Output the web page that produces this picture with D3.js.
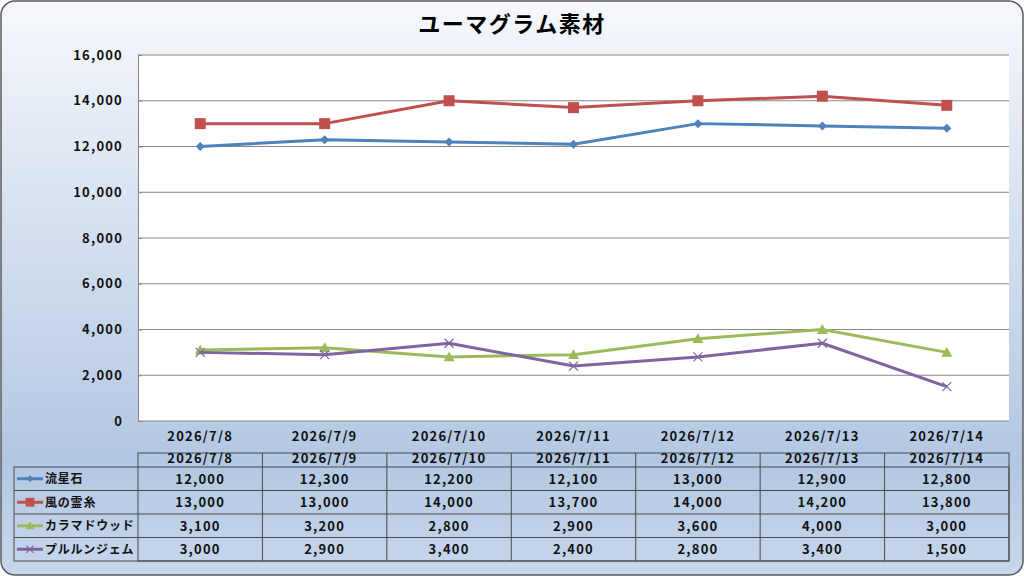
<!DOCTYPE html>
<html>
<head>
<meta charset="utf-8">
<script src="https://cdn.jsdelivr.net/npm/d3@7"></script>
<style>
  html, body { margin: 0; padding: 0; background: #fff; }
  svg { display: block; }
  text { letter-spacing: 1.2px; }
</style>
</head>
<body>
<svg id="chart"></svg>
<script>
// chart data
const dates = ["2026/7/8", "2026/7/9", "2026/7/10", "2026/7/11", "2026/7/12", "2026/7/13", "2026/7/14"];
const seriesNames = ["流星石", "風の霊糸", "カラマドウッド", "プルルンジェム"];
const ryuseiseki = [12000, 12300, 12200, 12100, 13000, 12900, 12800];
const kazeNoReishi = [13000, 13000, 14000, 13700, 14000, 14200, 13800];
const karamaWood = [3100, 3200, 2800, 2900, 3600, 4000, 3000];
const pururunGem = [3000, 2900, 3400, 2400, 2800, 3400, 1500];
const yTicks = [0, 2000, 4000, 6000, 8000, 10000, 12000, 14000, 16000];

const colors = ["#4f81bd", "#c0504d", "#9bbb59", "#8064a2"];
const markers = ["diamond", "square", "triangle", "cross"];
const series = [ryuseiseki, kazeNoReishi, karamaWood, pururunGem].map((values, i) => ({
  name: seriesNames[i], values, color: colors[i], marker: markers[i]
}));

const width = 1024, height = 576;
const plot = { left: 138, right: 1009, top: 55, bottom: 421 };
const font = "'Noto Sans CJK JP', 'Noto Sans', sans-serif";

const svg = d3.select("#chart").attr("width", width).attr("height", height);

// background panel
const defs = svg.append("defs");
const grad = defs.append("linearGradient").attr("id", "bg").attr("x1", 0).attr("y1", 0).attr("x2", 0).attr("y2", 1);
grad.append("stop").attr("offset", "0%").attr("stop-color", "#f6f8fc");
grad.append("stop").attr("offset", "80%").attr("stop-color", "#b2c7e2");
grad.append("stop").attr("offset", "100%").attr("stop-color", "#c7d7ec");

svg.append("rect")
  .attr("x", 1).attr("y", 1).attr("width", width - 2).attr("height", height - 2)
  .attr("rx", 14).attr("fill", "url(#bg)")
  .attr("stroke", "#5a5a5a").attr("stroke-width", 1.5);

// title
svg.append("text")
  .attr("x", width / 2).attr("y", 32)
  .attr("text-anchor", "middle")
  .style("font", `bold 22px ${font}`)
  .style("letter-spacing", "1.5px")
  .attr("fill", "#000")
  .text("ユーマグラム素材");

// scales
const x = d3.scaleBand().domain(dates).range([plot.left, plot.right]);
const y = d3.scaleLinear().domain([0, 16000]).range([plot.bottom, plot.top]);

svg.append("rect")
  .attr("x", plot.left).attr("y", plot.top)
  .attr("width", plot.right - plot.left).attr("height", plot.bottom - plot.top)
  .attr("fill", "#fff");

// gridlines
svg.append("g")
  .selectAll("line")
  .data(yTicks)
  .join("line")
  .attr("x1", plot.left).attr("x2", plot.right)
  .attr("y1", (d) => y(d)).attr("y2", (d) => y(d))
  .attr("stroke", "#868686").attr("stroke-width", 1);

// y axis
const yAxis = svg.append("g")
  .attr("transform", `translate(${plot.left},0)`)
  .call(d3.axisLeft(y).tickValues(yTicks).tickFormat(d3.format(",")).tickSize(-4).tickPadding(15));
yAxis.select(".domain").attr("stroke", "#868686");
yAxis.selectAll(".tick line").attr("stroke", "#868686");
yAxis.selectAll("text").style("font", `bold 13px ${font}`).attr("fill", "#111");

// x axis labels
svg.append("g")
  .selectAll("text")
  .data(dates)
  .join("text")
  .attr("x", (d) => x(d) + x.bandwidth() / 2)
  .attr("y", 441)
  .attr("text-anchor", "middle")
  .style("font", `bold 13px ${font}`)
  .attr("fill", "#111")
  .text((d) => d);

// markers
function drawMarker(g, type, color, size) {
  if (type === "diamond") {
    g.append("path").attr("d", `M0,${-size}L${size},0L0,${size}L${-size},0Z`).attr("fill", color);
  } else if (type === "square") {
    g.append("rect").attr("x", -size).attr("y", -size).attr("width", size * 2).attr("height", size * 2).attr("fill", color);
  } else if (type === "triangle") {
    g.append("path").attr("d", `M0,${-size}L${size},${size * 0.8}L${-size},${size * 0.8}Z`).attr("fill", color);
  } else {
    g.append("path").attr("d", `M${-size},${-size}L${size},${size}M${size},${-size}L${-size},${size}`)
      .attr("stroke", color).attr("stroke-width", 1.2).attr("fill", "none");
  }
}
const markerSize = { diamond: 4.5, square: 5.5, triangle: 5.5, cross: 4.5 };

// lines
const line = d3.line()
  .x((d, i) => x(dates[i]) + x.bandwidth() / 2)
  .y((d) => y(d));

series.forEach((s) => {
  svg.append("path")
    .datum(s.values)
    .attr("d", line)
    .attr("fill", "none")
    .attr("stroke", s.color)
    .attr("stroke-width", 3)
    .attr("stroke-linejoin", "round");
  s.values.forEach((v, i) => {
    const g = svg.append("g")
      .attr("transform", `translate(${x(dates[i]) + x.bandwidth() / 2},${y(v)})`);
    drawMarker(g, s.marker, s.color, markerSize[s.marker]);
  });
});

// data table
const table = { left: 14, headTop: 453, headBottom: 467, rowH: 23.5 };
const tg = svg.append("g");
const tableBottom = table.headBottom + table.rowH * series.length;
const lineColor = "#4a4a4a";

// header cells
tg.append("rect")
  .attr("x", plot.left).attr("y", table.headTop)
  .attr("width", plot.right - plot.left).attr("height", tableBottom - table.headTop)
  .attr("fill", "none").attr("stroke", lineColor);
tg.append("rect")
  .attr("x", table.left).attr("y", table.headBottom)
  .attr("width", plot.right - table.left).attr("height", tableBottom - table.headBottom)
  .attr("fill", "none").attr("stroke", lineColor);
tg.selectAll(".vline")
  .data(dates.slice(1))
  .join("line")
  .attr("x1", (d) => x(d)).attr("x2", (d) => x(d))
  .attr("y1", table.headTop).attr("y2", tableBottom)
  .attr("stroke", lineColor);
tg.selectAll(".hline")
  .data(series.slice(1))
  .join("line")
  .attr("x1", table.left).attr("x2", plot.right)
  .attr("y1", (d, i) => table.headBottom + table.rowH * (i + 1))
  .attr("y2", (d, i) => table.headBottom + table.rowH * (i + 1))
  .attr("stroke", lineColor);

tg.selectAll(".head")
  .data(dates)
  .join("text")
  .attr("x", (d) => x(d) + x.bandwidth() / 2)
  .attr("y", table.headTop + 10)
  .attr("text-anchor", "middle")
  .style("font", `bold 13px ${font}`)
  .attr("fill", "#111")
  .text((d) => d);

series.forEach((s, r) => {
  const cy = table.headBottom + table.rowH * r + table.rowH / 2;
  // legend key
  tg.append("line")
    .attr("x1", 17).attr("x2", 43).attr("y1", cy).attr("y2", cy)
    .attr("stroke", s.color).attr("stroke-width", 3);
  const kg = tg.append("g").attr("transform", `translate(30,${cy})`);
  drawMarker(kg, s.marker, s.color, markerSize[s.marker] * 0.8);
  tg.append("text")
    .attr("x", 45).attr("y", cy + 4.5)
    .style("font", `bold 12px ${font}`)
    .style("letter-spacing", "0.8px")
    .attr("fill", "#111")
    .text(s.name);
  tg.selectAll(null)
    .data(s.values)
    .join("text")
    .attr("x", (d, i) => x(dates[i]) + x.bandwidth() / 2)
    .attr("y", cy + 5)
    .attr("text-anchor", "middle")
    .style("font", `bold 13px ${font}`)
    .attr("fill", "#111")
    .text((d) => d3.format(",")(d));
});
</script>
</body>
</html>
